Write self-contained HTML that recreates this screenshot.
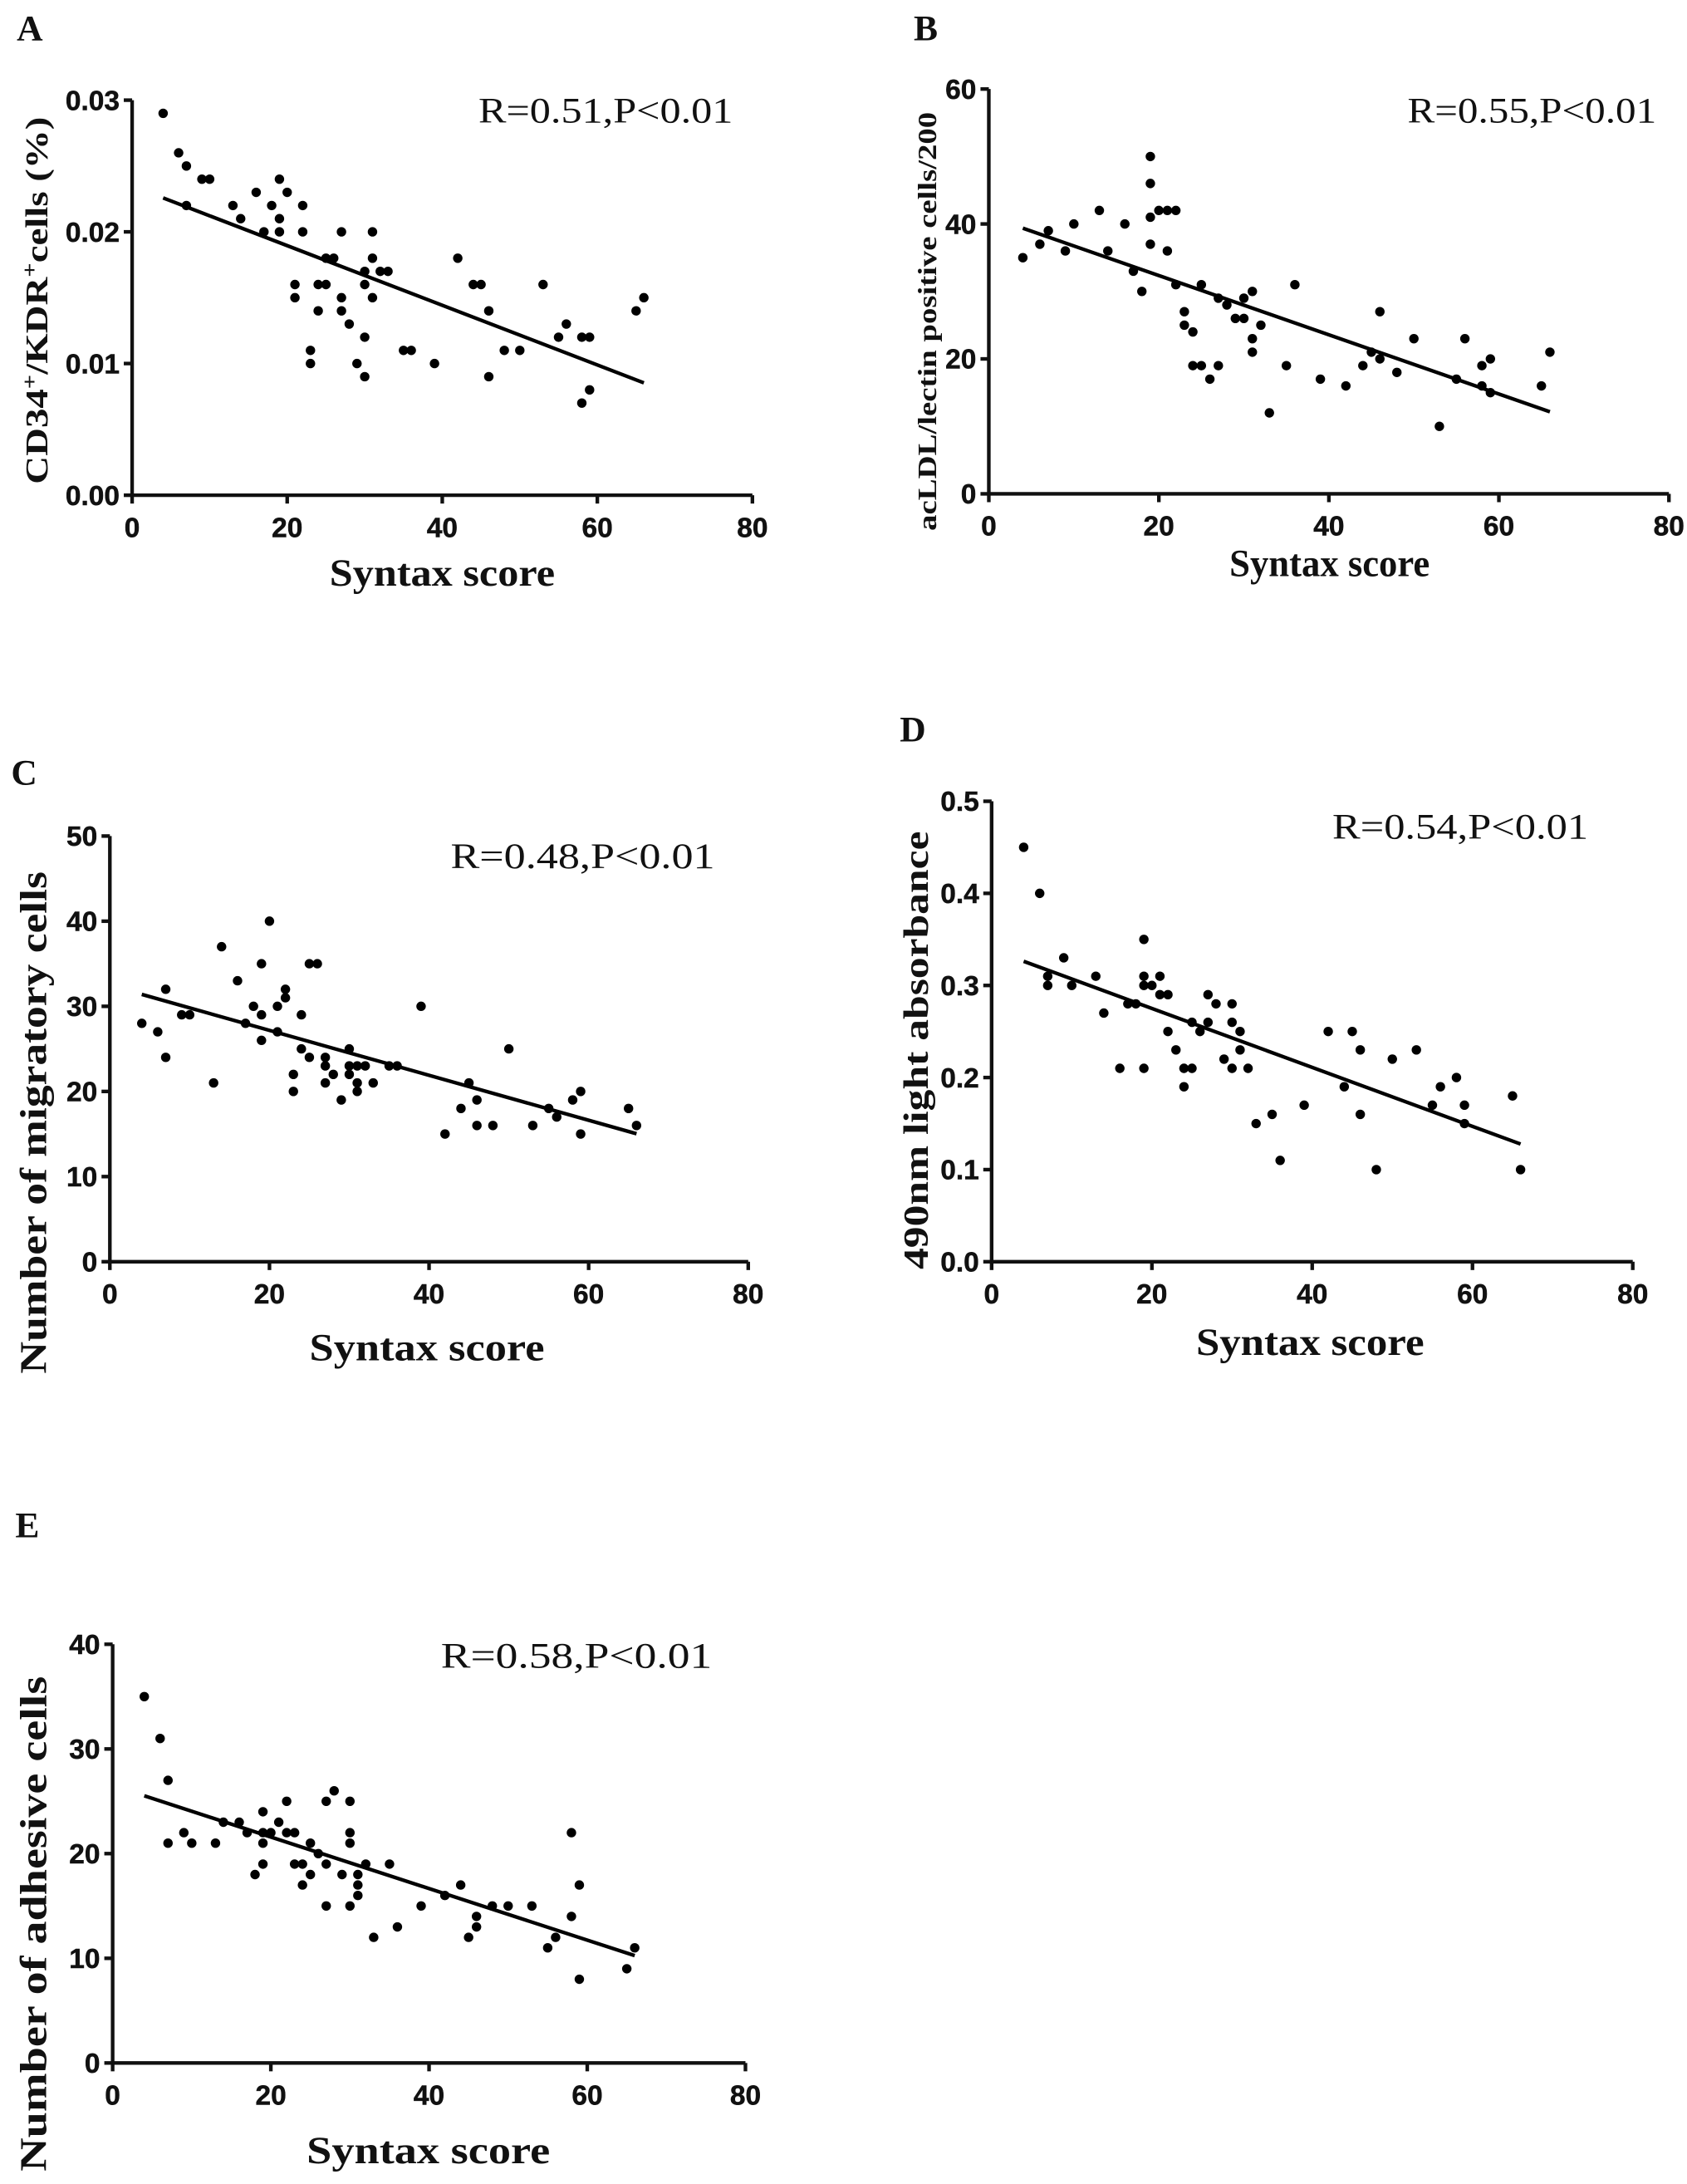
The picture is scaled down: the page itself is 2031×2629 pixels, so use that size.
<!DOCTYPE html>
<html><head><meta charset="utf-8"><style>
html,body{margin:0;padding:0;background:#fff;}
svg{display:block;}
.tick{font-family:"Liberation Sans",sans-serif;font-weight:bold;font-size:20px;fill:#111;stroke:#111;stroke-width:0.3px;}
.ttl{font-family:"Liberation Serif",serif;font-weight:bold;fill:#111;}
.rtxt{font-family:"Liberation Serif",serif;font-size:26px;fill:#111;}
</style></head><body>
<svg id="fig" width="2031" height="2629" viewBox="0 0 1213 1570" preserveAspectRatio="none" xmlns="http://www.w3.org/2000/svg"></svg>
<script>
// ---- Data (Syntax score vs outcome) ----
const aX=[4,6,7,7,9,10,13,14,16,17,18,19,19,19,20,22,22,21,21,23,23,24,25,24,25,26,27,27,27,28,29,30,30,30,30,31,31,31,32,33,35,36,39,42,44,45,46,46,48,50,53,55,56,58,59,58,59,65,66];
const aY=[.029,.026,.025,.022,.024,.024,.022,.021,.023,.020,.022,.024,.021,.020,.023,.022,.020,.016,.015,.011,.010,.016,.016,.014,.018,.018,.020,.015,.014,.013,.010,.017,.016,.012,.009,.020,.018,.015,.017,.017,.011,.011,.010,.018,.016,.016,.014,.009,.011,.011,.016,.012,.013,.012,.012,.007,.008,.014,.015];
const bX=[4,6,7,9,10,13,14,16,17,18,19,19,19,19,20,21,22,21,22,23,23,24,24,25,25,26,27,27,28,29,30,30,31,31,31,32,33,35,36,39,42,44,45,46,46,48,50,53,55,56,58,58,59,59,65,66];
const bY=[35,37,39,36,40,42,36,40,33,30,50,46,41,37,42,42,42,36,31,27,25,24,19,19,31,17,19,29,28,26,26,29,30,23,21,25,12,19,31,17,16,19,21,27,20,18,23,10,17,23,19,16,20,15,16,21];
const cX=[4,6,7,7,9,10,13,14,16,17,18,19,19,19,20,21,21,22,22,23,23,24,24,25,26,25,27,27,27,28,29,30,30,31,32,30,31,31,33,35,36,39,42,44,45,46,46,48,50,53,55,56,58,59,59,65,66];
const cY=[28,27,32,24,29,29,21,37,33,28,30,35,29,26,40,30,27,32,31,22,20,29,25,35,35,24,24,23,21,22,19,25,23,23,23,22,21,20,21,23,23,30,15,18,21,19,16,16,25,16,18,17,19,20,15,18,16];
const dX=[4,6,7,7,9,10,13,14,16,17,18,19,19,19,20,19,21,21,22,22,23,24,25,24,25,26,27,27,28,29,30,30,30,31,31,32,33,35,36,39,42,44,45,46,46,48,50,53,55,56,58,59,59,65,66];
const dY=[.45,.40,.31,.30,.33,.30,.31,.27,.21,.28,.28,.35,.31,.30,.30,.21,.31,.29,.29,.25,.23,.21,.21,.19,.26,.25,.29,.26,.28,.22,.28,.26,.21,.25,.23,.21,.15,.16,.11,.17,.25,.19,.25,.23,.16,.10,.22,.23,.17,.19,.20,.17,.15,.18,.10];
const eX=[4,6,7,7,9,10,13,14,16,17,18,19,19,20,19,19,21,22,22,23,23,24,24,25,25,26,27,27,27,28,29,30,30,30,30,31,31,31,32,33,35,36,39,42,44,45,46,46,48,50,53,55,56,58,58,59,59,65,66];
const eY=[35,31,27,21,22,21,21,23,23,22,18,24,22,22,21,19,23,25,22,22,19,19,17,21,18,20,25,19,15,26,18,25,22,21,15,18,17,16,19,12,19,13,15,16,17,12,14,13,15,15,15,11,12,22,14,17,8,9,11];
const xTicks=[0,20,40,60,80];
const aTicks=[0,0.01,0.02,0.03], aTickLabels=["0.00","0.01","0.02","0.03"];
const bTicks=[0,20,40,60], bTickLabels=["0","20","40","60"];
const cTicks=[0,10,20,30,40,50], cTickLabels=["0","10","20","30","40","50"];
const dTicks=[0,0.1,0.2,0.3,0.4,0.5], dTickLabels=["0.0","0.1","0.2","0.3","0.4","0.5"];
const eTicks=[0,10,20,30,40], eTickLabels=["0","10","20","30","40"];
const rLabels=["R=0.51,P<0.01","R=0.55,P<0.01","R=0.48,P<0.01","R=0.54,P<0.01","R=0.58,P<0.01"];

const NS="http://www.w3.org/2000/svg";
const svg=document.getElementById('fig');
function mk(tag,attrs,parent){const e=document.createElementNS(NS,tag);for(const k in attrs)e.setAttribute(k,attrs[k]);(parent||svg).appendChild(e);return e;}

const panels=[
 {id:'a',letter:'A',lx:12,ly:29,x0:95,x1:541,y0:356,y1:72,ymax:0.03,xs:aX,ys:aY,ticks:aTicks,tl:aTickLabels,r:rLabels[0],rx:344,ry:88,rw:183,
  ytitle:'CD34<tspan baseline-shift="super" font-size="15">+</tspan>/KDR<tspan baseline-shift="super" font-size="15">+</tspan>cells (%)',ytx:34,yty:216,ytl:264,yfs:23,sx:318,sy:421,sw:162},
 {id:'b',letter:'B',lx:657,ly:29,x0:711,x1:1200,y0:355,y1:64,ymax:60,xs:bX,ys:bY,ticks:bTicks,tl:bTickLabels,r:rLabels[1],rx:1012,ry:88,rw:179,
  ytitle:'acLDL/lectin positive cells/200',ytx:673,yty:231,ytl:301,yfs:19,sx:956,sy:414,sw:144},
 {id:'c',letter:'C',lx:8,ly:564,x0:79,x1:538,y0:907,y1:601,ymax:50,xs:cX,ys:cY,ticks:cTicks,tl:cTickLabels,r:rLabels[2],rx:324,ry:624,rw:190,
  ytitle:'Number of migratory cells',ytx:33,yty:807,ytl:361,yfs:27,sx:307,sy:978,sw:169},
 {id:'d',letter:'D',lx:647,ly:533,x0:713,x1:1174,y0:907,y1:576,ymax:0.5,xs:dX,ys:dY,ticks:dTicks,tl:dTickLabels,r:rLabels[3],rx:958,ry:603,rw:184,
  ytitle:'490nm light absorbance',ytx:667,yty:755,ytl:315,yfs:25,sx:942,sy:974,sw:164},
 {id:'e',letter:'E',lx:11,ly:1105,x0:81,x1:536,y0:1483,y1:1182,ymax:40,xs:eX,ys:eY,ticks:eTicks,tl:eTickLabels,r:rLabels[4],rx:317,ry:1199,rw:195,
  ytitle:'Number of adhesive cells',ytx:33,yty:1383,ytl:356,yfs:27,sx:308,sy:1555,sw:175}
];

panels.forEach(p=>{
  const g=mk('g',{});
  
  
  const sx=v=>p.x0+(v/80)*(p.x1-p.x0);
  const sy=v=>p.y0-(v/p.ymax)*(p.y0-p.y1);
  const L=mk('text',{x:p.lx,y:p.ly,class:'ttl','font-size':26},g);L.textContent=p.letter;
  
  
  const ax=mk('path',{d:`M${p.x0} ${p.y1} V${p.y0} H${p.x1}`,stroke:'#111','stroke-width':2.6,fill:'none'},g);
  
  
  xTicks.forEach(t=>{
    mk('line',{x1:sx(t),x2:sx(t),y1:p.y0,y2:p.y0+6,stroke:'#111','stroke-width':2.6},g);
    const tx=mk('text',{x:sx(t),y:p.y0+30,class:'tick','text-anchor':'middle'},g);tx.textContent=t;
    
    
  });
  p.ticks.forEach((t,i)=>{
    mk('line',{x1:p.x0-6,x2:p.x0,y1:sy(t),y2:sy(t),stroke:'#111','stroke-width':2.6},g);
    const tx=mk('text',{x:p.x0-9,y:sy(t)+7,class:'tick','text-anchor':'end'},g);tx.textContent=p.tl[i];
    
    
  });
  p.xs.forEach((x,i)=>{
    const c=mk('circle',{cx:sx(x),cy:sy(p.ys[i]),r:3.4,fill:'#000'},g);
    
    
  });
  const n=p.xs.length;let mx=0,my=0;p.xs.forEach((x,i)=>{mx+=x;my+=p.ys[i];});mx/=n;my/=n;
  let sxy=0,sxx=0;p.xs.forEach((x,i)=>{sxy+=(x-mx)*(p.ys[i]-my);sxx+=(x-mx)*(x-mx);});
  const b=sxy/sxx,a=my-b*mx;const xa=Math.min(...p.xs),xb=Math.max(...p.xs);
  const rl=mk('line',{x1:sx(xa),y1:sy(a+b*xa),x2:sx(xb),y2:sy(a+b*xb),stroke:'#000','stroke-width':2.6},g);
  
  
  const rt=mk('text',{x:p.rx,y:p.ry,class:'rtxt',textLength:p.rw,lengthAdjust:'spacingAndGlyphs'},g);rt.textContent=p.r;
  
  
  const xt=mk('text',{x:p.sx,y:p.sy,class:'ttl','font-size':28,'text-anchor':'middle',textLength:p.sw,lengthAdjust:'spacingAndGlyphs'},g);xt.textContent='Syntax score';
  
  
  const yt=mk('text',{x:0,y:0,class:'ttl','font-size':p.yfs,'text-anchor':'middle',transform:`translate(${p.ytx},${p.yty}) rotate(-90)`,textLength:p.ytl,lengthAdjust:'spacingAndGlyphs'},g);
  yt.innerHTML=p.ytitle;
  
  
});
</script>
</body></html>
